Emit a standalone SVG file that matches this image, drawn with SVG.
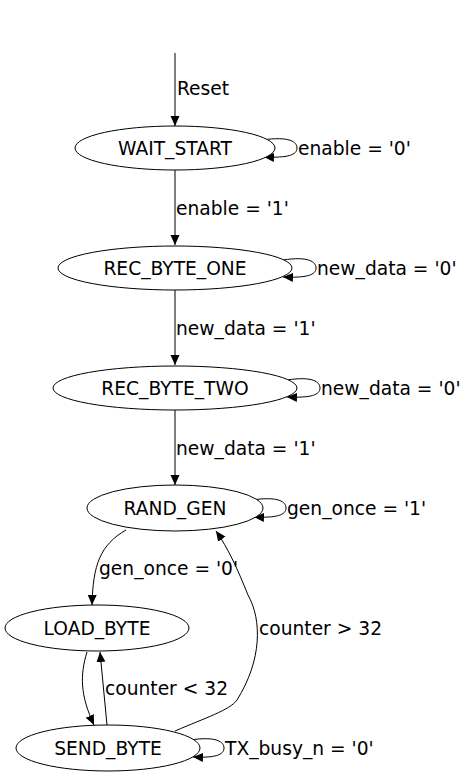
<svg xmlns="http://www.w3.org/2000/svg" width="465" height="779" viewBox="0 0 465 779">
<style>
.n ellipse{fill:#fff;stroke:#000;stroke-width:1}
.n text{font-family:"DejaVu Sans",sans-serif;font-size:18.67px;text-anchor:middle;fill:#000}
.e path{fill:none;stroke:#000;stroke-width:1}
.l{font-family:"DejaVu Sans",sans-serif;font-size:18.67px;fill:#000}
</style>
<defs>
<marker id="a" markerWidth="10" markerHeight="10" viewBox="0 0 10 10" refX="10" refY="5" orient="auto" markerUnits="userSpaceOnUse">
<path d="M0,0.5 L10,5 L0,9.5 Z" fill="#000"/>
</marker>
</defs>
<rect width="465" height="779" fill="#fff"/>
<g class="e" id="edges">
<path d="M175,53 L175,126" marker-end="url(#a)"/>
<path d="M262,140 C290,136 297,142 297,148 C297,155 288,158 264,157" marker-end="url(#a)"/>
<path d="M175,170 L175,245" marker-end="url(#a)"/>
<path d="M283,260 C309,256 316,262 316,268 C316,275 307,278 283,277" marker-end="url(#a)"/>
<path d="M175,290 L175,365" marker-end="url(#a)"/>
<path d="M287,380 C313,376 320,382 320,388 C320,395 311,398 287,397" marker-end="url(#a)"/>
<path d="M175,410 L175,485" marker-end="url(#a)"/>
<path d="M252,500 C279,496 286,502 286,508 C286,515 277,518 254,517" marker-end="url(#a)"/>
<path d="M126,530 C100,545 93,565 92,605" marker-end="url(#a)"/>
<path d="M87,652 C80,675 80,695 94,725" marker-end="url(#a)"/>
<path d="M107,725 L100,652" marker-end="url(#a)"/>
<path d="M175,731 C205,718 230,710 237,700 C262,660 262,620 248,595 C238,570 228,548 216,531" marker-end="url(#a)"/>
<path d="M190,740 C217,736 224,742 224,748 C224,755 215,758 193,757" marker-end="url(#a)"/>
</g>
<g id="edge-labels">
<text class="l" x="177" y="95">Reset</text>
<text class="l" x="298" y="155">enable = '0'</text>
<text class="l" x="176" y="215">enable = '1'</text>
<text class="l" x="317" y="275">new_data = '0'</text>
<text class="l" x="176" y="335">new_data = '1'</text>
<text class="l" x="321" y="395">new_data = '0'</text>
<text class="l" x="176" y="455">new_data = '1'</text>
<text class="l" x="287" y="515">gen_once = '1'</text>
<text class="l" x="99" y="575">gen_once = '0'</text>
<text class="l" x="259" y="635">counter &gt; 32</text>
<text class="l" x="105" y="695">counter &lt; 32</text>
<text class="l" x="225" y="755">TX_busy_n = '0'</text>
</g>
<g class="n" id="WAIT_START"><ellipse cx="175" cy="148" rx="100" ry="22"/><text x="175" y="155">WAIT_START</text></g>
<g class="n" id="REC_BYTE_ONE"><ellipse cx="175" cy="268" rx="117" ry="22"/><text x="175" y="275">REC_BYTE_ONE</text></g>
<g class="n" id="REC_BYTE_TWO"><ellipse cx="175" cy="388" rx="122" ry="22"/><text x="175" y="395">REC_BYTE_TWO</text></g>
<g class="n" id="RAND_GEN"><ellipse cx="175" cy="508" rx="88" ry="23"/><text x="175" y="515">RAND_GEN</text></g>
<g class="n" id="LOAD_BYTE"><ellipse cx="97" cy="628" rx="92" ry="23"/><text x="97" y="635">LOAD_BYTE</text></g>
<g class="n" id="SEND_BYTE"><ellipse cx="108" cy="748" rx="92" ry="23"/><text x="108" y="755">SEND_BYTE</text></g>
</svg>
